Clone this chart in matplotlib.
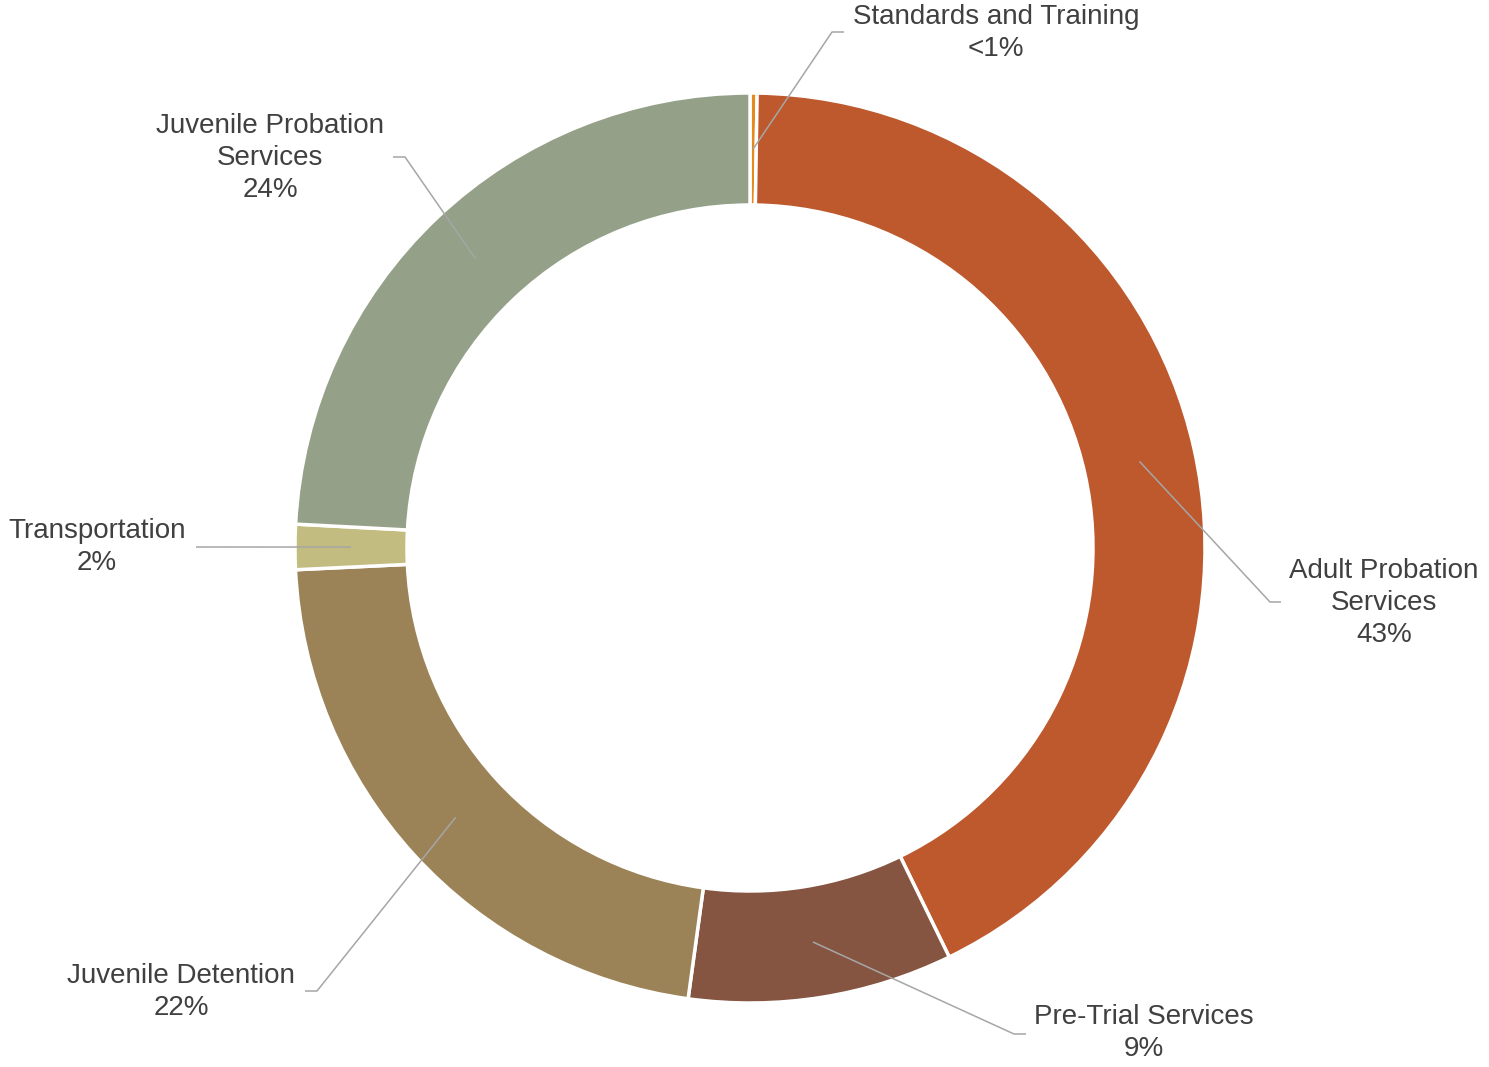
import numpy as np
import matplotlib
matplotlib.use("Agg")
import matplotlib.pyplot as plt

plt.rcParams['font.family'] = ['Liberation Sans', 'DejaVu Sans']

# Budget share by program area
categories = ["Standards and Training", "Adult Probation\nServices", "Pre-Trial Services",
              "Juvenile Detention", "Transportation", "Juvenile Probation\nServices"]
shares = [0.25, 42.6, 9.4, 22.1, 1.6, 24.2]
colors = ["#E58A1F", "#BD592D", "#865541", "#9B8357", "#C2BC80", "#94A088"]

# Label layout (pixel positions, y measured from top): text centre, leader elbow, leader end
label_centre = [(996, 33), (1384, 603), (1144, 1033), (181, 992), (97, 547), (270, 158)]
leader_elbow = [(832, 32), (1270, 602), (1014, 1034), (317, 991), (196, 547), (405, 157)]
leader_end = [(844, 32), (1281, 602), (1026, 1034), (305, 991), (196, 547), (393, 157)]

W, H = 1489, 1067
fig = plt.figure(figsize=(W / 100, H / 100), dpi=100)
ax = fig.add_axes([0, 0, 1, 1])

cx, cy = 750, H - 548
R, ring = 455, 112

wedges, _ = ax.pie(shares, colors=colors, startangle=90, counterclock=False,
                   radius=R, center=(cx, cy),
                   wedgeprops=dict(width=ring, edgecolor="white", linewidth=2.5))

ax.set_xlim(0, W)
ax.set_ylim(0, H)
ax.set_aspect("equal")
ax.axis("off")

total = sum(shares)
line_color = "#A6A6A6"
text_color = "#404040"
mid_r = R - ring / 2

for w, name, v, tc, el, en in zip(wedges, categories, shares, label_centre, leader_elbow, leader_end):
    ang = np.deg2rad((w.theta1 + w.theta2) / 2)
    sx, sy = cx + mid_r * np.cos(ang), cy + mid_r * np.sin(ang)
    pct = v / total * 100
    pct_txt = "<1%" if pct < 1 else f"{pct:.0f}%"
    xs = [sx, el[0], en[0]]
    ys = [sy, H - el[1], H - en[1]]
    ax.plot(xs, ys, color=line_color, linewidth=1.1, solid_capstyle="butt", zorder=3)
    ax.text(tc[0], H - tc[1], f"{name}\n{pct_txt}", ha="center", va="center",
            fontsize=20, color=text_color, linespacing=1.32)

fig.savefig("out.png", dpi=100)
